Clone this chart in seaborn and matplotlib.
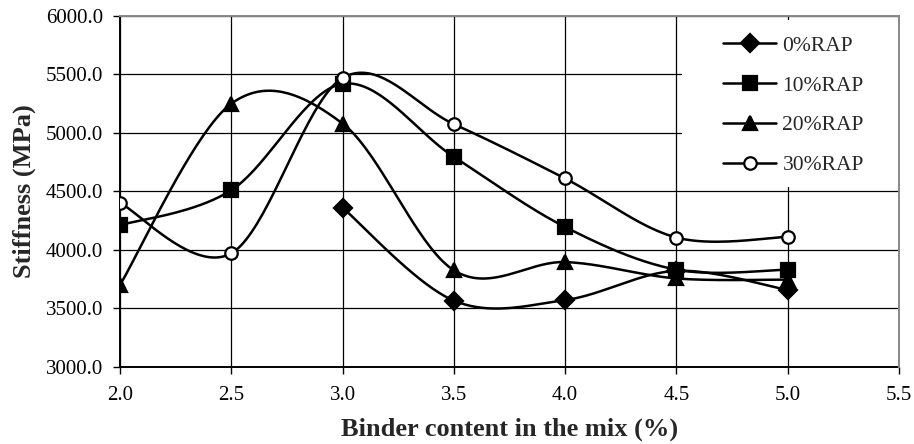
import numpy as np
import pandas as pd
import matplotlib
matplotlib.use("Agg")
import matplotlib.pyplot as plt
from matplotlib.lines import Line2D
from matplotlib.patches import Rectangle
import seaborn as sns

# ---- data ----
binder = [2.0, 2.5, 3.0, 3.5, 4.0, 4.5, 5.0]
rap0 = [np.nan, np.nan, 4360, 3565, 3570, 3820, 3655]
rap10 = [4210, 4510, 5420, 4795, 4195, 3830, 3830]
rap20 = [3700, 5250, 5080, 3825, 3895, 3755, 3745]
rap30 = [4400, 3970, 5470, 5075, 4610, 4105, 4110]
series_names = ["0%RAP", "10%RAP", "20%RAP", "30%RAP"]
series_vals = [rap0, rap10, rap20, rap30]
xticks = [2.0, 2.5, 3.0, 3.5, 4.0, 4.5, 5.0, 5.5]
yticks = [3000, 3500, 4000, 4500, 5000, 5500, 6000]

markers = ["D", "s", "^", "o"]
msizes = [9, 10, 10.5, 9]
mfaces = ["black", "black", "black", "white"]

sns.set_theme(style="white")
plt.rcParams["font.family"] = ["Liberation Serif", "DejaVu Serif"]

fig = plt.figure(figsize=(9.14, 4.44), dpi=100)
ax = fig.add_axes([120/914, 1-366.7/444, (899-120)/914, (366.7-16)/444])


def smooth(xs, ys, n=40):
    """Excel-like smoothed line (Catmull-Rom Bezier) through the data points."""
    P = np.column_stack([xs, ys]).astype(float)
    m = len(P)
    out = []
    t = np.linspace(0, 1, n)[:, None]
    for i in range(m - 1):
        p0 = P[i]
        p3 = P[i + 1]
        pm = P[i - 1] if i > 0 else P[i]
        pp = P[i + 2] if i + 2 < m else P[i + 1]
        c1 = p0 + (p3 - pm) / 6.0
        c2 = p3 - (pp - p0) / 6.0
        seg = ((1 - t) ** 3) * p0 + 3 * ((1 - t) ** 2) * t * c1 + 3 * (1 - t) * t ** 2 * c2 + t ** 3 * p3
        out.append(seg if i == 0 else seg[1:])
    return np.vstack(out)


rows = []
for name, vals in zip(series_names, series_vals):
    x = np.array(binder)
    y = np.array(vals, dtype=float)
    ok = ~np.isnan(y)
    c = smooth(x[ok], y[ok])
    rows.append(pd.DataFrame({"x": c[:, 0], "y": c[:, 1], "s": name}))
curves = pd.concat(rows, ignore_index=True)

for name in series_names:
    d = curves[curves.s == name]
    sns.lineplot(data=d, x="x", y="y", ax=ax, color="black", linewidth=1.8,
                 sort=False, estimator=None, legend=False, zorder=3)

pts = pd.DataFrame({"x": binder * 4,
                    "y": sum([list(v) for v in series_vals], []),
                    "s": sum([[n] * len(binder) for n in series_names], [])}).dropna()
for name, mk, ms, fc in zip(series_names, markers, msizes, mfaces):
    d = pts[pts.s == name]
    ax.plot(d.x, d.y, linestyle="none", marker=mk, markersize=ms,
            markerfacecolor=fc, markeredgecolor="black", markeredgewidth=1.6, zorder=4)

ax.set_xlim(2.0, 5.5)
ax.set_ylim(3000, 6000)
ax.set_xticks(xticks)
ax.set_yticks(yticks)
ax.set_xticklabels([f"{v:.1f}" for v in xticks])
ax.set_yticklabels([f"{v:.1f}" for v in yticks])
ax.grid(True, color="black", linewidth=0.9)
ax.set_axisbelow(True)
ax.tick_params(axis="both", labelsize=15, colors="black", length=5, width=1,
               direction="out", bottom=True, left=True)
ax.tick_params(axis="x", pad=9)
ax.tick_params(axis="y", pad=7)
for s in ["left", "bottom"]:
    ax.spines[s].set_color("black")
    ax.spines[s].set_linewidth(1.4)
for s in ["top", "right"]:
    ax.spines[s].set_color("#888888")
    ax.spines[s].set_linewidth(1.4)
    ax.spines[s].set_zorder(5)

ax.set_xlabel("Binder content in the mix (%)", fontsize=19, fontweight="bold", labelpad=9)
ax.set_ylabel("Stiffness (MPa)", fontsize=19, fontweight="bold", labelpad=7)

# white legend area
ax.add_patch(Rectangle(((682-120)/779, 1-(187-16)/350.7), (899-682)/779, (187-20)/350.7,
                       transform=ax.transAxes, facecolor="white", edgecolor="none", zorder=2.5))
handles = [Line2D([0], [0], color="black", linewidth=1.8, marker=mk, markersize=ms,
                  markerfacecolor=fc, markeredgecolor="black", markeredgewidth=1.6)
           for mk, ms, fc in zip(markers, msizes, mfaces)]
leg = ax.legend(handles, series_names, loc="upper left",
                bbox_to_anchor=((714-120)/779, 1-(27-16)/350.7),
                frameon=False, fontsize=15.5, handlelength=2.5, handletextpad=0.28,
                labelspacing=0.92, borderaxespad=0)
leg.set_zorder(6)

fig.savefig("out.png", dpi=100, facecolor="white")
